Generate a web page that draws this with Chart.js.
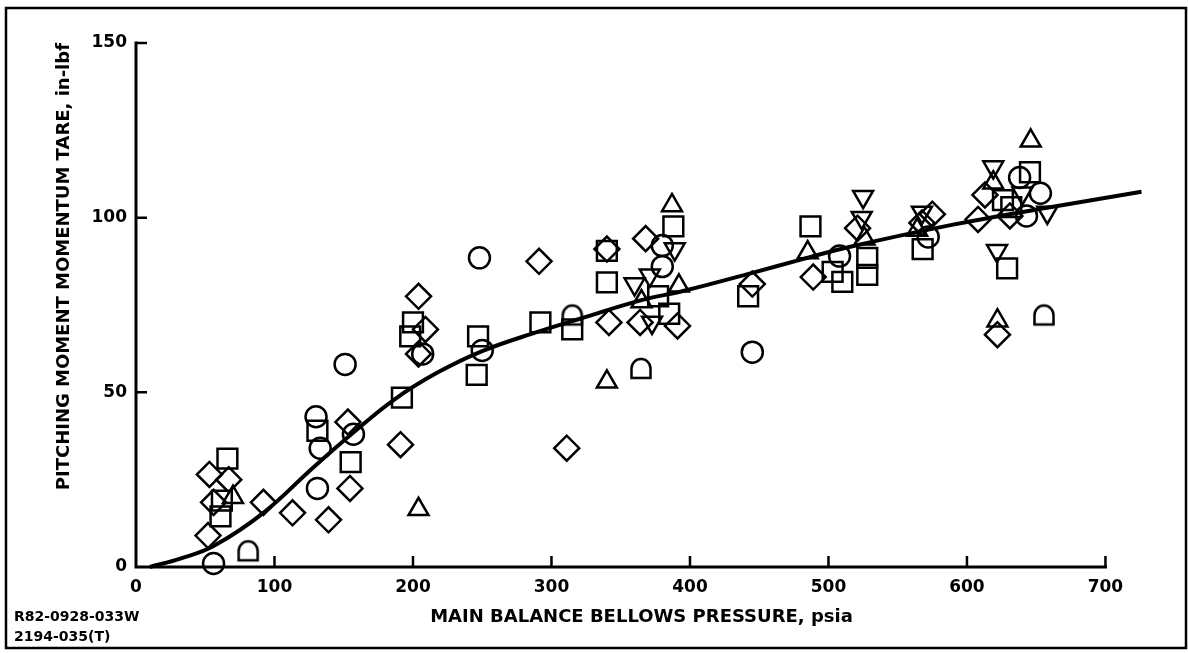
<!DOCTYPE html>
<html><head><meta charset="utf-8">
<script src="https://cdn.jsdelivr.net/npm/chart.js@4/dist/chart.umd.min.js"></script>
<style>html,body{margin:0;padding:0;background:#fff}canvas{display:block}</style>
</head><body>
<canvas id="c" width="1188" height="653"></canvas>
<script>
// ---- data (x = psia, y = in-lbf) ----
const xTicks = [0, 100, 200, 300, 400, 500, 600, 700];
const yTicks = [0, 50, 100, 150];
const xTitle = 'MAIN BALANCE BELLOWS PRESSURE, psia';
const yTitle = 'PITCHING MOMENT MOMENTUM TARE, in-lbf';
const footLines = ['R82-0928-033W', '2194-035(T)'];

const circlePts = [[56,1],[130,43],[133,34],[131,22.5],[151,58],[157,38],[207,61],[248,88.5],[250,62],
  [380,92],[380,86],[445,61.5],[508,89],[572,94.5],[638,111.5],[653,107],[643,100.5]];
const squarePts = [[66,31],[62,19],[61,14.5],[131,39],[155,30],[192,48.5],[198,66],[200,70],[247,66],[246,55],
  [292,70],[315,68],[340,90.5],[340,81.5],[377,77.5],[385,72.5],[388,97.5],[442,77.5],[487,97.5],[503,84.5],
  [510,81.6],[528,88.5],[528,83.6],[568,91],[626,105],[632,103],[629,85.5],[645.5,113]];
const diamondPts = [[53,26.5],[67,25],[56,18.5],[52,9],[92,18.5],[113,15.5],[139,13.5],[153,41.5],[154.5,22.5],
  [191,35],[204,77.5],[209,68],[204,61],[291,87.5],[311,34],[340,91],[341.5,70],[368,94],[364,70],[391,69],
  [445,81],[489,83],[521,97],[567.5,98.5],[575,101],[608,99.5],[613,106.5],[631,100.5],[622,66.5]];
const triUpPts = [[70,20],[204,16.5],[340,53],[365,76],[387,103.5],[392,80.5],[485,90],[526,94],[564,96.5],
  [619,110],[622,70.5],[646,122]];
const triDownPts = [[360,81],[371,83.5],[372.6,70],[389,91],[524,100],[525,106],[567.5,101.5],[619,114.5],
  [621.7,90.5],[640,107],[658,101.5]];
const halfCirclePts = [[81,4.5],[315,72],[364.6,56.7],[655.6,72]];
const curveX = [10, 32, 56, 92, 128, 157, 186, 217, 250, 290, 320, 365, 395, 445, 480, 515, 590, 660, 726];
const curveY = [0, 2.4, 6, 15.5, 28.5, 38.5, 47.8, 55.5, 61.8, 67.3, 71, 76.4, 79, 84.2, 88, 91.6, 98, 103, 107.4];

const FONT = "'DejaVu Sans', sans-serif";
const toXY = a => a.map(p => ({x: p[0], y: p[1]}));

function makeD() {
  const c = document.createElement('canvas');
  c.width = 26; c.height = 26;
  const g = c.getContext('2d');
  g.lineWidth = 2.5; g.strokeStyle = '#000';
  g.beginPath();
  g.moveTo(3.5, 22); g.lineTo(3.5, 12.5);
  g.arc(13, 12.5, 9.5, Math.PI, 0);
  g.lineTo(22.5, 22); g.closePath();
  g.stroke();
  return c;
}

function markerSet(label, pts, style, radius, rotation) {
  return {label, data: toXY(pts), pointStyle: style, pointRadius: radius, pointRotation: rotation || 0,
    borderColor: '#000', backgroundColor: 'rgba(0,0,0,0)', pointBorderWidth: 2.5, showLine: false, clip: false};
}

const decor = {
  id: 'decor',
  beforeDraw(chart) {
    const ctx = chart.ctx; ctx.save(); ctx.fillStyle = '#fff'; ctx.fillRect(0, 0, chart.width, chart.height); ctx.restore();
  },
  afterDraw(chart) {
    const {ctx, scales: {x, y}} = chart;
    ctx.save();
    ctx.strokeStyle = '#000'; ctx.lineCap = 'square';
    const x0 = x.getPixelForValue(xTicks[0]), xe = x.getPixelForValue(xTicks[xTicks.length - 1]);
    const y0 = y.getPixelForValue(yTicks[0]), ye = y.getPixelForValue(yTicks[yTicks.length - 1]);
    ctx.lineWidth = 3;
    ctx.beginPath(); ctx.moveTo(x0, ye); ctx.lineTo(x0, y0); ctx.lineTo(xe, y0); ctx.stroke();
    ctx.lineWidth = 2.5; ctx.lineCap = 'butt';
    ctx.beginPath();
    for (const v of xTicks) { if (v === 0) continue; const px = x.getPixelForValue(v); ctx.moveTo(px, y0); ctx.lineTo(px, y0 - 11); }
    for (const v of yTicks) { if (v === 0) continue; const py = y.getPixelForValue(v); ctx.moveTo(x0, py); ctx.lineTo(x0 + 11, py); }
    ctx.stroke();
    ctx.lineWidth = 2.5;
    ctx.strokeRect(6, 8, 1180, 640);
    ctx.fillStyle = '#000'; ctx.font = 'bold 14px ' + FONT; ctx.textBaseline = 'middle'; ctx.textAlign = 'left';
    ctx.fillText(footLines[0], 14, 617);
    ctx.fillText(footLines[1], 14, 637);
    ctx.restore();
  }
};

new Chart(document.getElementById('c'), {
  type: 'scatter',
  data: {
    datasets: [
      {label: 'fit', data: curveX.map((v, i) => ({x: v, y: curveY[i]})), showLine: true, pointRadius: 0,
        borderColor: '#000', borderWidth: 4, tension: 0.4, clip: false, order: 0},
      markerSet('circle', circlePts, 'circle', 10.5),
      markerSet('square', squarePts, 'rect', 14),
      markerSet('diamond', diamondPts, 'rectRot', 12.5),
      markerSet('triangle up', triUpPts, 'triangle', 11.5, 0),
      markerSet('triangle down', triDownPts, 'triangle', 11.5, 180),
      markerSet('half circle', halfCirclePts, makeD(), 10)
    ]
  },
  options: {
    responsive: false, animation: false, events: [],
    layout: {padding: {top: 43, right: 41, bottom: 0, left: 0}},
    plugins: {legend: {display: false}, tooltip: {enabled: false}},
    scales: {
      x: {
        type: 'linear', min: 0, max: 730,
        afterFit(s) { s.height = 86; },
        afterBuildTicks(s) { s.ticks = xTicks.map(v => ({value: v})); },
        grid: {display: false, drawTicks: false}, border: {display: false},
        ticks: {color: '#000', font: {family: FONT, size: 17, weight: 'bold'}, padding: 10, maxRotation: 0, autoSkip: false},
        title: {display: true, text: xTitle, color: '#000', font: {family: FONT, size: 18, weight: 'bold'}, padding: {top: 0, bottom: 25}}
      },
      y: {
        type: 'linear', min: 0, max: 150,
        afterFit(s) { s.width = 136; },
        afterBuildTicks(s) { s.ticks = yTicks.map(v => ({value: v})); },
        grid: {display: false, drawTicks: false}, border: {display: false},
        ticks: {color: '#000', font: {family: FONT, size: 17, weight: 'bold'}, padding: 9, autoSkip: false},
        title: {display: true, text: yTitle, align: 'end', color: '#000', font: {family: FONT, size: 18, weight: 'bold'}, padding: {top: 54, bottom: 0}}
      }
    }
  },
  plugins: [decor]
});
</script>
</body></html>
